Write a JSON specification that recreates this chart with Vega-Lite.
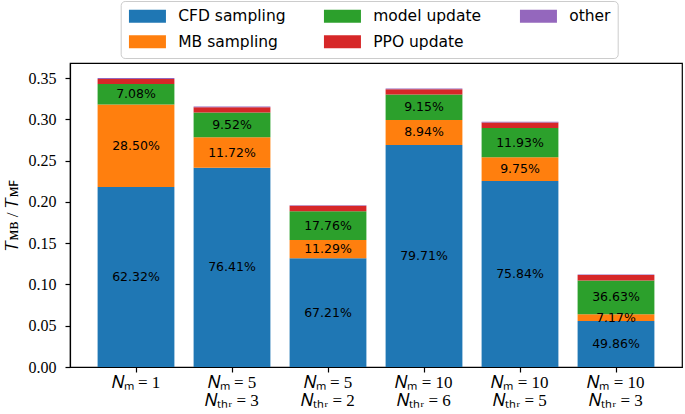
{
  "$schema": "https://vega.github.io/schema/vega-lite/v6.json",
  "autosize": {"type": "none"},
  "padding": {"left": 70, "top": 63, "right": 3, "bottom": 47},
  "width": 612,
  "height": 304,
  "data": {
    "values": [
      {"cfg": "𝑁ₘ = 1", "comp": "CFD sampling", "k": 0, "v": 0.2181, "lab": "62.32%"},
      {"cfg": "𝑁ₘ = 1", "comp": "MB sampling", "k": 1, "v": 0.09975, "lab": "28.50%"},
      {"cfg": "𝑁ₘ = 1", "comp": "model update", "k": 2, "v": 0.02478, "lab": "7.08%"},
      {"cfg": "𝑁ₘ = 1", "comp": "PPO update", "k": 3, "v": 0.0063, "lab": ""},
      {"cfg": "𝑁ₘ = 1", "comp": "other", "k": 4, "v": 0.00105, "lab": ""},

      {"cfg": "𝑁ₘ = 5|𝑁ₜₕᵣ = 3", "comp": "CFD sampling", "k": 0, "v": 0.2412, "lab": "76.41%"},
      {"cfg": "𝑁ₘ = 5|𝑁ₜₕᵣ = 3", "comp": "MB sampling", "k": 1, "v": 0.0370, "lab": "11.72%"},
      {"cfg": "𝑁ₘ = 5|𝑁ₜₕᵣ = 3", "comp": "model update", "k": 2, "v": 0.03005, "lab": "9.52%"},
      {"cfg": "𝑁ₘ = 5|𝑁ₜₕᵣ = 3", "comp": "PPO update", "k": 3, "v": 0.0063, "lab": ""},
      {"cfg": "𝑁ₘ = 5|𝑁ₜₕᵣ = 3", "comp": "other", "k": 4, "v": 0.0011, "lab": ""},

      {"cfg": "𝑁ₘ = 5|𝑁ₜₕᵣ = 2", "comp": "CFD sampling", "k": 0, "v": 0.1317, "lab": "67.21%"},
      {"cfg": "𝑁ₘ = 5|𝑁ₜₕᵣ = 2", "comp": "MB sampling", "k": 1, "v": 0.02213, "lab": "11.29%"},
      {"cfg": "𝑁ₘ = 5|𝑁ₜₕᵣ = 2", "comp": "model update", "k": 2, "v": 0.03481, "lab": "17.76%"},
      {"cfg": "𝑁ₘ = 5|𝑁ₜₕᵣ = 2", "comp": "PPO update", "k": 3, "v": 0.0067, "lab": ""},
      {"cfg": "𝑁ₘ = 5|𝑁ₜₕᵣ = 2", "comp": "other", "k": 4, "v": 0.0006, "lab": ""},

      {"cfg": "𝑁ₘ = 10|𝑁ₜₕᵣ = 6", "comp": "CFD sampling", "k": 0, "v": 0.2690, "lab": "79.71%"},
      {"cfg": "𝑁ₘ = 10|𝑁ₜₕᵣ = 6", "comp": "MB sampling", "k": 1, "v": 0.03017, "lab": "8.94%"},
      {"cfg": "𝑁ₘ = 10|𝑁ₜₕᵣ = 6", "comp": "model update", "k": 2, "v": 0.03088, "lab": "9.15%"},
      {"cfg": "𝑁ₘ = 10|𝑁ₜₕᵣ = 6", "comp": "PPO update", "k": 3, "v": 0.0064, "lab": ""},
      {"cfg": "𝑁ₘ = 10|𝑁ₜₕᵣ = 6", "comp": "other", "k": 4, "v": 0.0010, "lab": ""},

      {"cfg": "𝑁ₘ = 10|𝑁ₜₕᵣ = 5", "comp": "CFD sampling", "k": 0, "v": 0.2252, "lab": "75.84%"},
      {"cfg": "𝑁ₘ = 10|𝑁ₜₕᵣ = 5", "comp": "MB sampling", "k": 1, "v": 0.02896, "lab": "9.75%"},
      {"cfg": "𝑁ₘ = 10|𝑁ₜₕᵣ = 5", "comp": "model update", "k": 2, "v": 0.03543, "lab": "11.93%"},
      {"cfg": "𝑁ₘ = 10|𝑁ₜₕᵣ = 5", "comp": "PPO update", "k": 3, "v": 0.0064, "lab": ""},
      {"cfg": "𝑁ₘ = 10|𝑁ₜₕᵣ = 5", "comp": "other", "k": 4, "v": 0.0010, "lab": ""},

      {"cfg": "𝑁ₘ = 10|𝑁ₜₕᵣ = 3", "comp": "CFD sampling", "k": 0, "v": 0.05584, "lab": "49.86%"},
      {"cfg": "𝑁ₘ = 10|𝑁ₜₕᵣ = 3", "comp": "MB sampling", "k": 1, "v": 0.00803, "lab": "7.17%"},
      {"cfg": "𝑁ₘ = 10|𝑁ₜₕᵣ = 3", "comp": "model update", "k": 2, "v": 0.04103, "lab": "36.63%"},
      {"cfg": "𝑁ₘ = 10|𝑁ₜₕᵣ = 3", "comp": "PPO update", "k": 3, "v": 0.0066, "lab": ""},
      {"cfg": "𝑁ₘ = 10|𝑁ₜₕᵣ = 3", "comp": "other", "k": 4, "v": 0.0005, "lab": ""}
    ]
  },
  "transform": [
    {"stack": "v", "groupby": ["cfg"], "sort": [{"field": "k", "order": "ascending"}], "as": ["v0", "v1"]},
    {"calculate": "(datum.v0 + datum.v1) / 2", "as": "mid"}
  ],
  "encoding": {
    "x": {
      "field": "cfg",
      "type": "nominal",
      "sort": null,
      "scale": {"paddingInner": 0.2, "paddingOuter": 0.2875},
      "axis": {
        "title": null,
        "labelAngle": 0,
        "labelExpr": "split(datum.label, '|')",
        "labelFont": "Liberation Serif",
        "labelFontSize": 17,
        "labelLineHeight": 18,
        "labelColor": "black",
        "labelPadding": 2,
        "tickSize": 5,
        "tickColor": "black",
        "domainColor": "black"
      }
    }
  },
  "layer": [
    {
      "mark": {"type": "bar", "strokeWidth": 0},
      "encoding": {
        "y": {
          "field": "v1",
          "type": "quantitative",
          "scale": {"domain": [0, 0.3682], "nice": false, "zero": true},
          "axis": {
            "title": "𝑇ᴍʙ / 𝑇ᴍꜰ",
            "titleFont": "Liberation Serif",
            "titleFontSize": 17,
            "titleFontWeight": "normal",
            "titleColor": "black",
            "titlePadding": 7,
            "values": [0, 0.05, 0.1, 0.15, 0.2, 0.25, 0.3, 0.35],
            "format": ".2f",
            "labelFont": "Liberation Serif",
            "labelFontSize": 16,
            "labelColor": "black",
            "labelPadding": 9,
            "tickSize": 5,
            "tickColor": "black",
            "domainColor": "black",
            "grid": false
          }
        },
        "y2": {"field": "v0"},
        "color": {
          "field": "comp",
          "type": "nominal",
          "scale": {
            "domain": ["CFD sampling", "model update", "other", "MB sampling", "PPO update"],
            "range": ["#1f77b4", "#2ca02c", "#9467bd", "#ff7f0e", "#d62728"]
          },
          "legend": {
            "title": null,
            "orient": "none",
            "legendX": 50.7,
            "legendY": -62,
            "columns": 3,
            "direction": "horizontal",
            "columnPadding": 37,
            "rowPadding": 9,
            "padding": 7,
            "strokeColor": "#cccccc",
            "fillColor": "white",
            "cornerRadius": 4,
            "labelFont": "DejaVu Sans",
            "labelFontSize": 15.5,
            "labelColor": "black",
            "labelOffset": 35,
            "symbolType": "M-1,-1L4.692,-1L4.692,1L-1,1Z",
            "symbolSize": 169,
            "symbolStrokeWidth": 0,
            "symbolOpacity": 1
          }
        }
      }
    },
    {
      "transform": [{"filter": "datum.lab != ''"}],
      "mark": {"type": "text", "font": "DejaVu Sans", "fontSize": 12.5, "color": "black", "baseline": "middle", "align": "center"},
      "encoding": {
        "y": {"field": "mid", "type": "quantitative"},
        "text": {"field": "lab"}
      }
    }
  ],
  "config": {
    "view": {"stroke": "black", "strokeWidth": 1.2},
    "axis": {"domainWidth": 1.2, "tickWidth": 1.2}
  }
}
